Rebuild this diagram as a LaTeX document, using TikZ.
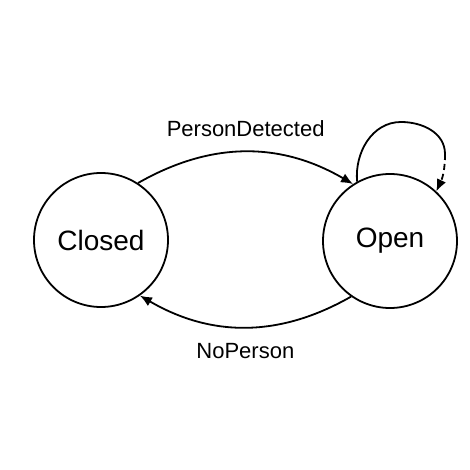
\documentclass[tikz,border=0pt]{standalone}
\usepackage{fontspec}
\setmainfont{Liberation Sans}
\usetikzlibrary{arrows.meta}

\tikzset{
  fsmstate/.style = {circle, draw, line width=1.8pt, minimum size=134pt, inner sep=0pt,
                     font=\fontsize{28}{32}\selectfont},
  fsmedge/.style  = {line width=1.8pt, -{Latex[length=12pt,width=10pt]}},
  fsmlabel/.style = {font=\fontsize{22}{26}\selectfont}
}

\begin{document}
\begin{tikzpicture}[x=1pt,y=1pt]
    \useasboundingbox (0,0) rectangle (469,470);
    \node [fsmstate] (closed) at (101,230) {Closed};
    \node [fsmstate] (open)   at (390,229) {Open};
    \draw [fsmedge] (closed.57)  to [bend left=30]
          node [fsmlabel, midway, above=11pt] (lbldetect) {PersonDetected} (open.123);
    \draw [fsmedge] (open.235)   to [bend left=30]
          node [fsmlabel, midway, below=12pt] (lblnone)   {NoPerson}       (closed.305);
    \coordinate (looptop)   at (401,348);
    \coordinate (loopright) at (445,316);
    \draw [line width=1.8pt] (open.119) to [out=95,in=180] (looptop)
                                        to [out=0,in=90]   (loopright);
    \draw [fsmedge, dash pattern=on 6pt off 4pt]
                             (loopright) to [out=-90,in=65] (open.47);
\end{tikzpicture}
\end{document}
